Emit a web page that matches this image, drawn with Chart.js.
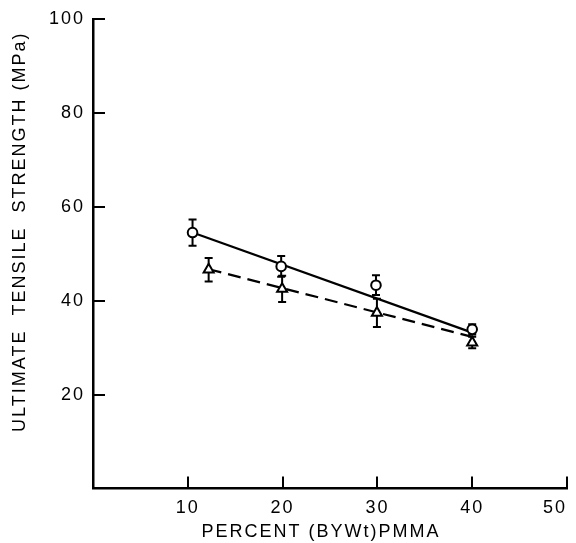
<!DOCTYPE html>
<html>
<head>
<meta charset="utf-8">
<script src="https://cdn.jsdelivr.net/npm/chart.js@4.4.1/dist/chart.umd.min.js"></script>
<style>
  html, body { margin: 0; padding: 0; background: #fff; }
  #wrap { width: 576px; height: 543px; }
</style>
</head>
<body>
<div id="wrap"><canvas id="c" width="576" height="543"></canvas></div>
<script>
// ---- data ----
const xTicks = [10, 20, 30, 40, 50];
const yTicks = [20, 40, 60, 80, 100];

// circles (solid line)
const pctA = [10.5, 19.85, 29.85, 40.0];
const utsA = [54.5, 47.3, 43.3, 33.9];
const errA = [2.8, 2.2, 2.1, 1.1];

// triangles (dashed line)
const pctB = [12.2, 19.95, 29.95, 40.0];
const utsB = [46.6, 42.5, 37.4, 31.1];
const errB = [2.5, 2.8, 3.0, 1.2];

// fitted lines (endpoints)
const fitAx = [10.5, 40.0];
const fitAy = [54.5, 33.2];
const fitBx = [12.2, 40.0];
const fitBy = [46.7, 32.3];

const xTitle = 'PERCENT (BYWt)PMMA';
const yTitle = 'ULTIMATE  TENSILE  STRENGTH (MPa)';

const toPts = (xs, ys) => xs.map((x, i) => ({ x: x, y: ys[i] }));

function shiftTitle(s, dx, dy) {
  if (!s || s._shifted) return;
  const orig = s.drawTitle.bind(s);
  s.drawTitle = function () {
    this.ctx.save();
    this.ctx.translate(dx, dy);
    orig();
    this.ctx.restore();
  };
  s._shifted = true;
}

const spacingPlugin = {
  id: 'spacing',
  beforeUpdate(chart) { chart.ctx.letterSpacing = '2px'; },
  afterLayout(chart) {
    shiftTitle(chart.scales.y, 0, -22);
    shiftTitle(chart.scales.x, -9, 0);
  },
  beforeDraw(chart) {
    const ctx = chart.ctx;
    ctx.save();
    ctx.fillStyle = '#fff';
    ctx.fillRect(0, 0, chart.width, chart.height);
    ctx.restore();
    ctx.letterSpacing = '2px';
  }
};

const errorBarPlugin = {
  id: 'errorBars',
  beforeDatasetsDraw(chart) {
    const ctx = chart.ctx, xs = chart.scales.x, ys = chart.scales.y;
    ctx.save();
    ctx.strokeStyle = '#000';
    ctx.lineWidth = 2;
    const draw = (px, py, pe) => {
      px.forEach((xv, i) => {
        const X = xs.getPixelForValue(xv);
        const Y1 = ys.getPixelForValue(py[i] + pe[i]);
        const Y2 = ys.getPixelForValue(py[i] - pe[i]);
        ctx.beginPath();
        ctx.moveTo(X, Y1); ctx.lineTo(X, Y2);
        ctx.moveTo(X - 4, Y1); ctx.lineTo(X + 4, Y1);
        ctx.moveTo(X - 4, Y2); ctx.lineTo(X + 4, Y2);
        ctx.stroke();
      });
    };
    draw(pctA, utsA, errA);
    draw(pctB, utsB, errB);
    ctx.restore();
  }
};

const inwardTicksPlugin = {
  id: 'inwardTicks',
  afterDraw(chart) {
    const ctx = chart.ctx, xs = chart.scales.x, ys = chart.scales.y;
    const a = chart.chartArea;
    ctx.save();
    ctx.strokeStyle = '#000';
    ctx.lineWidth = 2;
    ctx.beginPath();
    xTicks.forEach(v => {
      const X = Math.round(xs.getPixelForValue(v));
      ctx.moveTo(X, a.bottom); ctx.lineTo(X, a.bottom - 12);
    });
    yTicks.forEach(v => {
      const Y = Math.round(ys.getPixelForValue(v));
      ctx.moveTo(a.left, Y); ctx.lineTo(a.left + 12, Y);
    });
    ctx.stroke();
    ctx.restore();
  }
};

const fontFam = '"Liberation Sans", Arial, sans-serif';

new Chart(document.getElementById('c'), {
  type: 'scatter',
  data: {
    datasets: [
      {
        type: 'line', data: toPts(fitAx, fitAy), borderColor: '#000', borderWidth: 2.2,
        pointRadius: 0, fill: false, order: 3
      },
      {
        type: 'line', data: toPts(fitBx, fitBy), borderColor: '#000', borderWidth: 2.2,
        borderDash: [13, 7], pointRadius: 0, fill: false, order: 3
      },
      {
        data: toPts(pctA, utsA), pointStyle: 'circle', pointRadius: 4.8,
        borderColor: '#000', backgroundColor: '#fff', pointBorderWidth: 2, order: 1
      },
      {
        data: toPts(pctB, utsB), pointStyle: 'triangle', pointRadius: 5.8,
        borderColor: '#000', backgroundColor: '#fff', pointBorderWidth: 2, order: 1
      }
    ]
  },
  options: {
    responsive: false,
    animation: false,
    events: [],
    layout: { padding: { top: 16, right: 5, left: 0, bottom: 0 } },
    plugins: { legend: { display: false }, tooltip: { enabled: false } },
    scales: {
      x: {
        type: 'linear', min: 0, max: 50,
        afterFit(s) { s.height = 54.4; },
        grid: { display: false, drawTicks: false },
        border: { display: true, color: '#000', width: 2.5 },
        ticks: {
          stepSize: 10, align: 'inner', padding: 9, color: '#000',
          font: { family: fontFam, size: 18 },
          callback: v => (xTicks.includes(v) ? String(v) : '')
        },
        title: {
          display: true, text: xTitle, color: '#000',
          font: { family: fontFam, size: 18 }, padding: { top: 0, bottom: 0 }
        }
      },
      y: {
        type: 'linear', min: 0, max: 100,
        afterFit(s) { s.width = 93; },
        grid: { display: false, drawTicks: false },
        border: { display: true, color: '#000', width: 2.5 },
        ticks: {
          stepSize: 20, padding: 8, color: '#000',
          font: { family: fontFam, size: 18 },
          callback: v => (yTicks.includes(v) ? String(v) : '')
        },
        title: {
          display: true, text: yTitle, color: '#000',
          font: { family: fontFam, size: 18 }, padding: { top: 9, bottom: 0 }
        }
      }
    }
  },
  plugins: [spacingPlugin, errorBarPlugin, inwardTicksPlugin]
});
</script>
</body>
</html>
